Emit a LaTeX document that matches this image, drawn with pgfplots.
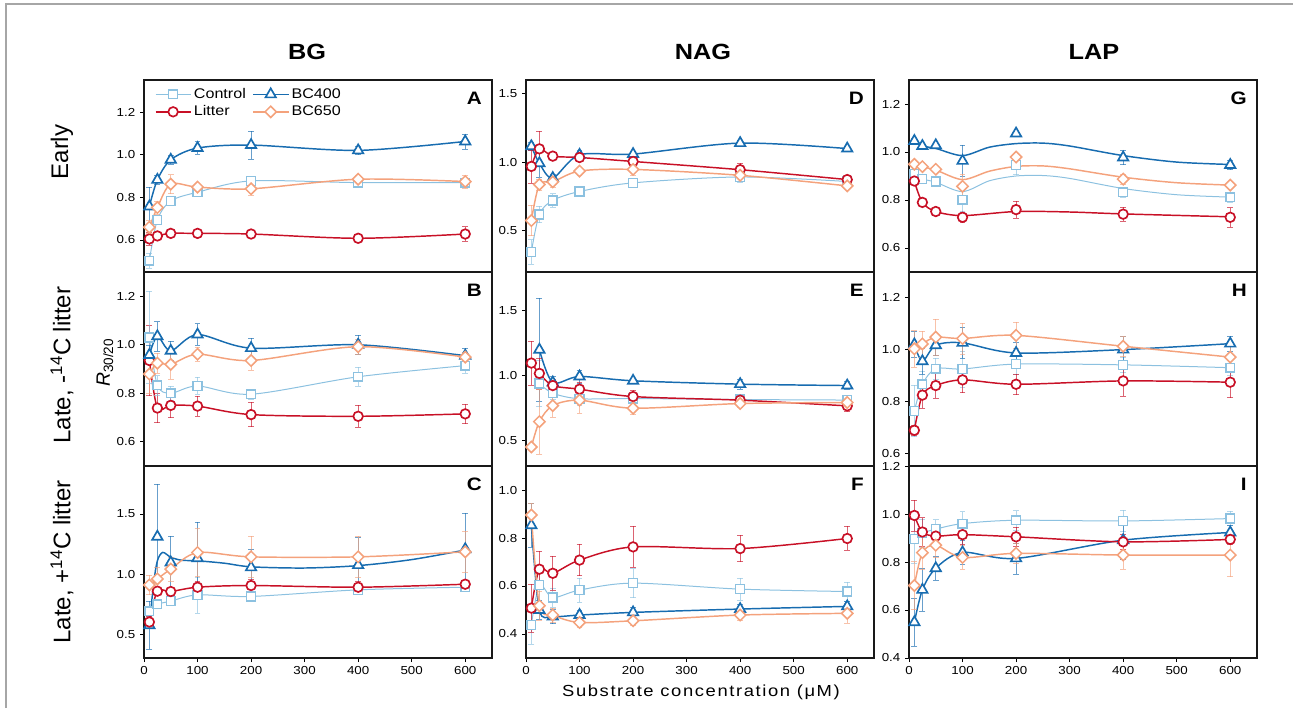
\documentclass[border=0pt]{standalone}
\usepackage{fontspec}
\setmainfont{Liberation Sans}[FakeStretch=1.15]
\newfontfamily\rotfont{Liberation Sans}
\newfontfamily\xlabfont{Liberation Sans}[FakeStretch=1.15,LetterSpace=10]
\usepackage{pgfplots}
\pgfplotsset{compat=1.18}
\definecolor{cCtrl}{RGB}{140,193,224}
\definecolor{cB4}{RGB}{23,108,176}
\definecolor{cLit}{RGB}{200,16,38}
\definecolor{cB6}{RGB}{244,162,124}
\tikzset{plabel/.style={anchor=north east, inner sep=0pt, xshift=-7.5pt, yshift=-8.8pt, font=\bfseries\fontsize{13.5}{14}\selectfont}}
\pgfplotsset{
  panel/.style={scale only axis, width=261pt, xmin=0, xmax=650,
    tick pos=left, tick align=outside, major tick length=3pt,
    axis line style={line width=1.2pt, black!90},
    every tick/.style={black, line width=0.6pt},
    ticklabel style={font=\fontsize{8.7}{10}\selectfont},
    /pgf/number format/assume math mode=true,
    yticklabel style={/pgf/number format/fixed, /pgf/number format/fixed zerofill, /pgf/number format/precision=1},
    clip=true},
  toprow/.style={xtick=\empty},
  botrow/.style={xtick={0,100,...,600}},
  sCtrl/.style={color=cCtrl, line width=0.75pt, mark=square*, mark size=3.3pt, mark options={fill=white, line width=1.05pt, solid}},
  sB4/.style={color=cB4, line width=1.1pt, mark=triangle*, mark size=4.5pt, mark options={fill=white, line width=1.25pt, solid}},
  sLit/.style={color=cLit, line width=1.1pt, mark=*, mark size=3.6pt, mark options={fill=white, line width=1.25pt, solid}},
  sB6/.style={color=cB6, line width=1.1pt, mark=square*, mark size=3pt, mark options={fill=white, line width=1.15pt, rotate=45, solid}},
  eb/.style={error bars/.cd, y dir=both, y explicit,
    error bar style={#1, line width=0.45pt, opacity=0.65},
    error mark options={rotate=90, mark size=2.2pt, #1, opacity=0.65, line width=0.45pt}},
}
\begin{document}
\begin{tikzpicture}
\useasboundingbox (0,0) rectangle (969.75pt,-531pt);
\draw[black!35, line width=0.8pt] (4.5pt,-531pt) -- (4.5pt,-3pt) -- (969.75pt,-3pt);

% ---------------- A ----------------
\begin{axis}[panel, toprow, at={(108pt,-60pt)}, anchor=north west, height=144pt,
  ymin=0.45, ymax=1.35, ytick={0.6,0.8,1.0,1.2},
  legend columns=2, legend cell align=left,
  legend style={at={(rel axis cs:0,1)}, anchor=north west, xshift=5pt, yshift=-2pt, draw=none, fill=none,
    font=\fontsize{10.5}{11}\selectfont, /tikz/every even column/.append style={column sep=3pt}, row sep=0pt},
  legend image code/.code={\draw[mark repeat=2, mark phase=2, #1] plot coordinates {(0cm,0cm)(0.46cm,0cm)(0.92cm,0cm)};}]
\addplot[sCtrl, smooth, eb=cCtrl] coordinates {(10,0.503) +- (0,0.035) (25,0.694) +- (0,0.02) (50,0.783) +- (0,0.02) (100,0.824) +- (0,0.02) (200,0.877) +- (0,0.02) (400,0.869) +- (0,0.01) (600,0.869) +- (0,0.015)};
\addlegendentry{Control}
\addplot[sB4, smooth, eb=cB4] coordinates {(10,0.757) +- (0,0.09) (25,0.882) +- (0,0.02) (50,0.976) +- (0,0.02) (100,1.031) +- (0,0.03) (200,1.045) +- (0,0.065) (400,1.02) +- (0,0.02) (600,1.062) +- (0,0.035)};
\addlegendentry{BC400}
\addplot[sLit, smooth, eb=cLit] coordinates {(10,0.605) +- (0,0.03) (25,0.619) +- (0,0.01) (50,0.631) +- (0,0.01) (100,0.631) +- (0,0.01) (200,0.628) +- (0,0.01) (400,0.608) +- (0,0.01) (600,0.628) +- (0,0.035)};
\addlegendentry{Litter}
\addplot[sB6, smooth, eb=cB6] coordinates {(10,0.66) +- (0,0.03) (25,0.752) +- (0,0.03) (50,0.862) +- (0,0.045) (100,0.848) +- (0,0.02) (200,0.84) +- (0,0.03) (400,0.885) +- (0,0.02) (600,0.874) +- (0,0.03)};
\addlegendentry{BC650}
\node[plabel] at (rel axis cs:1,1) {A};
\end{axis}

% ---------------- B ----------------
\begin{axis}[panel, toprow, at={(108pt,-204pt)}, anchor=north west, height=145.5pt,
  ymin=0.5, ymax=1.3, ytick={0.6,0.8,1.0,1.2}]
\addplot[sLit, smooth, eb=cLit] coordinates {(10,0.935) +- (0,0.145) (25,0.739) +- (0,0.06) (50,0.75) +- (0,0.05) (100,0.747) +- (0,0.04) (200,0.712) +- (0,0.05) (400,0.705) +- (0,0.045) (600,0.715) +- (0,0.04)};
\addplot[sCtrl, smooth, eb=cCtrl] coordinates {(10,1.03) +- (0,0.19) (25,0.833) +- (0,0.04) (50,0.80) +- (0,0.03) (100,0.83) +- (0,0.035) (200,0.796) +- (0,0.02) (400,0.868) +- (0,0.04) (600,0.914) +- (0,0.03)};
\addplot[sB4, smooth, eb=cB4] coordinates {(10,0.958) +- (0,0.04) (25,1.035) +- (0,0.06) (50,0.975) +- (0,0.04) (100,1.042) +- (0,0.045) (200,0.986) +- (0,0.04) (400,1.0) +- (0,0.04) (600,0.955) +- (0,0.03)};
\addplot[sB6, smooth, eb=cB6] coordinates {(10,0.879) +- (0,0.08) (25,0.924) +- (0,0.04) (50,0.919) +- (0,0.06) (100,0.961) +- (0,0.03) (200,0.935) +- (0,0.04) (400,0.992) +- (0,0.03) (600,0.949) +- (0,0.02)};
\node[plabel] at (rel axis cs:1,1) {B};
\end{axis}

% ---------------- C ----------------
\begin{axis}[panel, botrow, at={(108pt,-349.5pt)}, anchor=north west, height=144pt,
  ymin=0.3, ymax=1.9, ytick={0.5,1.0,1.5}]
\addplot[sCtrl, smooth, eb=cCtrl] coordinates {(10,0.69) +- (0,0.04) (25,0.747) +- (0,0.03) (50,0.774) +- (0,0.03) (100,0.826) +- (0,0.15) (200,0.813) +- (0,0.03) (400,0.868) +- (0,0.03) (600,0.89) +- (0,0.03)};
\addplot[sB4, smooth, no markers, forget plot] coordinates {(10,0.57) (18,0.92) (25,1.11) (35,1.18) (50,1.14) (70,1.115) (100,1.11) (150,1.09) (200,1.06) (300,1.05) (400,1.07) (500,1.12) (600,1.2)};
\addplot[sB4, only marks, eb=cB4] coordinates {(10,0.573) +- (0,0.2) (25,1.311) +- (0,0.44) (50,1.096) +- (0,0.22) (100,1.132) +- (0,0.3) (200,1.055) +- (0,0.15) (400,1.074) +- (0,0.23) (600,1.207) +- (0,0.3)};
\addplot[sLit, smooth, eb=cLit] coordinates {(10,0.60) +- (0,0.05) (25,0.857) +- (0,0.03) (50,0.854) +- (0,0.03) (100,0.89) +- (0,0.05) (200,0.904) +- (0,0.05) (400,0.89) +- (0,0.05) (600,0.915) +- (0,0.03)};
\addplot[sB6, smooth, eb=cB6] coordinates {(10,0.909) +- (0,0.08) (25,0.959) +- (0,0.1) (50,1.041) +- (0,0.1) (100,1.179) +- (0,0.2) (200,1.143) +- (0,0.17) (400,1.143) +- (0,0.17) (600,1.185) +- (0,0.17)};
\node[plabel] at (rel axis cs:1,1) {C};
\end{axis}

% ---------------- D ----------------
\begin{axis}[panel, toprow, at={(394.5pt,-60pt)}, anchor=north west, height=144pt,
  ymin=0.2, ymax=1.6, ytick={0.5,1.0,1.5}]
\addplot[sCtrl, smooth, eb=cCtrl] coordinates {(10,0.346) +- (0,0.09) (25,0.62) +- (0,0.06) (50,0.722) +- (0,0.05) (100,0.787) +- (0,0.03) (200,0.85) +- (0,0.03) (400,0.893) +- (0,0.04) (600,0.86) +- (0,0.03)};
\addplot[sB4, smooth, eb=cB4] coordinates {(10,1.117) +- (0,0.03) (25,0.993) +- (0,0.1) (50,0.885) +- (0,0.03) (100,1.054) +- (0,0.03) (200,1.06) +- (0,0.02) (400,1.14) +- (0,0.02) (600,1.10) +- (0,0.02)};
\addplot[sLit, smooth, eb=cLit] coordinates {(10,0.97) +- (0,0.12) (25,1.098) +- (0,0.13) (50,1.045) +- (0,0.02) (100,1.035) +- (0,0.02) (200,1.006) +- (0,0.03) (400,0.946) +- (0,0.05) (600,0.874) +- (0,0.03)};
\addplot[sB6, smooth, eb=cB6] coordinates {(10,0.575) +- (0,0.11) (25,0.838) +- (0,0.04) (50,0.857) +- (0,0.04) (100,0.936) +- (0,0.03) (200,0.948) +- (0,0.04) (400,0.905) +- (0,0.03) (600,0.828) +- (0,0.02)};
\node[plabel] at (rel axis cs:1,1) {D};
\end{axis}

% ---------------- E ----------------
\begin{axis}[panel, toprow, at={(394.5pt,-204pt)}, anchor=north west, height=145.5pt,
  ymin=0.3, ymax=1.8, ytick={0.5,1.0,1.5}]
\addplot[sCtrl, smooth, eb=cCtrl] coordinates {(25,0.938) +- (0,0.18) (50,0.863) +- (0,0.05) (100,0.82) +- (0,0.05) (200,0.822) +- (0,0.03) (400,0.814) +- (0,0.03) (600,0.81) +- (0,0.03)};
\addplot[sB4, smooth, eb=cB4] coordinates {(25,1.199) +- (0,0.4) (50,0.946) +- (0,0.05) (100,0.992) +- (0,0.05) (200,0.959) +- (0,0.02) (400,0.933) +- (0,0.04) (600,0.922) +- (0,0.03)};
\addplot[sLit, smooth, eb=cLit] coordinates {(10,1.096) +- (0,0.17) (25,1.016) +- (0,0.12) (50,0.922) +- (0,0.05) (100,0.894) +- (0,0.05) (200,0.837) +- (0,0.05) (400,0.809) +- (0,0.04) (600,0.765) +- (0,0.04)};
\addplot[sB6, smooth, eb=cB6] coordinates {(10,0.447) +- (0,0.02) (25,0.643) +- (0,0.25) (50,0.767) +- (0,0.09) (100,0.809) +- (0,0.1) (200,0.747) +- (0,0.05) (400,0.783) +- (0,0.03) (600,0.791) +- (0,0.03)};
\node[plabel] at (rel axis cs:1,1) {E};
\end{axis}

% ---------------- F ----------------
\begin{axis}[panel, botrow, at={(394.5pt,-349.5pt)}, anchor=north west, height=144pt,
  ymin=0.3, ymax=1.1, ytick={0.4,0.6,0.8,1.0}]
\addplot[sCtrl, smooth, eb=cCtrl] coordinates {(10,0.437) +- (0,0.08) (25,0.604) +- (0,0.07) (50,0.552) +- (0,0.04) (100,0.583) +- (0,0.05) (200,0.612) +- (0,0.06) (400,0.587) +- (0,0.045) (600,0.577) +- (0,0.04)};
\addplot[sB4, smooth, eb=cB4] coordinates {(10,0.853) +- (0,0.09) (25,0.50) +- (0,0.04) (50,0.473) +- (0,0.03) (100,0.479) +- (0,0.02) (200,0.49) +- (0,0.02) (400,0.504) +- (0,0.02) (600,0.515) +- (0,0.02)};
\addplot[sLit, smooth, eb=cLit] coordinates {(10,0.508) +- (0,0.1) (25,0.67) +- (0,0.075) (50,0.653) +- (0,0.07) (100,0.708) +- (0,0.065) (200,0.763) +- (0,0.085) (400,0.756) +- (0,0.055) (600,0.798) +- (0,0.05)};
\addplot[sB6, smooth, eb=cB6] coordinates {(10,0.896) +- (0,0.05) (25,0.518) +- (0,0.06) (50,0.479) +- (0,0.03) (100,0.448) +- (0,0.02) (200,0.455) +- (0,0.02) (400,0.479) +- (0,0.02) (600,0.486) +- (0,0.04)};
\node[plabel] at (rel axis cs:1,1) {F};
\end{axis}

% ---------------- G ----------------
\begin{axis}[panel, toprow, at={(681.75pt,-60pt)}, anchor=north west, height=144pt,
  ymin=0.5, ymax=1.3, ytick={0.6,0.8,1.0,1.2}]
\addplot[sCtrl, smooth, no markers] coordinates {(10,0.91) (25,0.888) (50,0.874) (100,0.835) (150,0.88) (200,0.90) (250,0.902) (300,0.89) (400,0.848) (500,0.822) (600,0.812)};
\addplot[sCtrl, only marks, eb=cCtrl] coordinates {(10,0.91) +- (0,0.01) (25,0.887) +- (0,0.01) (50,0.877) +- (0,0.01) (100,0.801) +- (0,0.05) (200,0.946) +- (0,0.04) (400,0.832) +- (0,0.02) (600,0.811) +- (0,0.02)};
\addplot[sB4, smooth, no markers] coordinates {(10,1.045) (25,1.025) (50,1.015) (100,0.985) (150,1.02) (200,1.035) (250,1.037) (300,1.025) (400,0.985) (500,0.958) (600,0.948)};
\addplot[sB4, only marks, eb=cB4] coordinates {(10,1.046) +- (0,0.01) (25,1.025) +- (0,0.01) (50,1.028) +- (0,0.01) (100,0.963) +- (0,0.065) (200,1.077) +- (0,0.01) (400,0.977) +- (0,0.03) (600,0.946) +- (0,0.02)};
\addplot[sLit, smooth, no markers] coordinates {(10,0.878) (25,0.79) (50,0.752) (100,0.735) (200,0.752) (300,0.75) (400,0.742) (600,0.73)};
\addplot[sLit, only marks, eb=cLit] coordinates {(10,0.879) +- (0,0.01) (25,0.79) +- (0,0.01) (50,0.752) +- (0,0.01) (100,0.728) +- (0,0.02) (200,0.76) +- (0,0.035) (400,0.741) +- (0,0.03) (600,0.728) +- (0,0.04)};
\addplot[sB6, smooth, no markers] coordinates {(10,0.948) (25,0.938) (50,0.925) (100,0.885) (150,0.92) (200,0.94) (250,0.942) (300,0.93) (400,0.895) (500,0.872) (600,0.862)};
\addplot[sB6, only marks, eb=cB6] coordinates {(10,0.949) +- (0,0.01) (25,0.939) +- (0,0.01) (50,0.928) +- (0,0.01) (100,0.857) +- (0,0.05) (200,0.979) +- (0,0.01) (400,0.887) +- (0,0.02) (600,0.862) +- (0,0.01)};
\node[plabel] at (rel axis cs:1,1) {G};
\end{axis}

% ---------------- H ----------------
\begin{axis}[panel, toprow, at={(681.75pt,-204pt)}, anchor=north west, height=145.5pt,
  ymin=0.55, ymax=1.3, ytick={0.6,0.8,1.0,1.2}]
\addplot[sCtrl, smooth, eb=cCtrl] coordinates {(10,0.763) +- (0,0.1) (25,0.866) +- (0,0.05) (50,0.926) +- (0,0.04) (100,0.925) +- (0,0.07) (200,0.944) +- (0,0.04) (400,0.941) +- (0,0.03) (600,0.93) +- (0,0.03)};
\addplot[sB4, smooth, eb=cB4] coordinates {(10,1.02) +- (0,0.05) (25,0.955) +- (0,0.05) (50,1.017) +- (0,0.04) (100,1.026) +- (0,0.06) (200,0.987) +- (0,0.04) (400,1.0) +- (0,0.05) (600,1.023) +- (0,0.03)};
\addplot[sLit, smooth, eb=cLit] coordinates {(10,0.688) +- (0,0.02) (25,0.824) +- (0,0.05) (50,0.861) +- (0,0.05) (100,0.883) +- (0,0.05) (200,0.866) +- (0,0.04) (400,0.879) +- (0,0.06) (600,0.874) +- (0,0.06)};
\addplot[sB6, smooth, eb=cB6] coordinates {(10,1.003) +- (0,0.07) (25,1.022) +- (0,0.05) (50,1.048) +- (0,0.07) (100,1.043) +- (0,0.06) (200,1.055) +- (0,0.05) (400,1.013) +- (0,0.04) (600,0.971) +- (0,0.04)};
\node[plabel] at (rel axis cs:1,1) {H};
\end{axis}

% ---------------- I ----------------
\begin{axis}[panel, botrow, at={(681.75pt,-349.5pt)}, anchor=north west, height=144pt,
  ymin=0.4, ymax=1.2, ytick={0.4,0.6,0.8,1.0,1.2}]
\addplot[sCtrl, smooth, eb=cCtrl] coordinates {(10,0.896) +- (0,0.1) (25,0.92) +- (0,0.06) (50,0.937) +- (0,0.04) (100,0.96) +- (0,0.05) (200,0.974) +- (0,0.04) (400,0.971) +- (0,0.045) (600,0.981) +- (0,0.03)};
\addplot[sB4, smooth, eb=cB4] coordinates {(10,0.549) +- (0,0.1) (25,0.684) +- (0,0.09) (50,0.774) +- (0,0.05) (100,0.84) +- (0,0.05) (200,0.815) +- (0,0.065) (400,0.891) +- (0,0.08) (600,0.923) +- (0,0.03)};
\addplot[sLit, smooth, eb=cLit] coordinates {(10,0.994) +- (0,0.065) (25,0.925) +- (0,0.06) (50,0.908) +- (0,0.05) (100,0.914) +- (0,0.04) (200,0.905) +- (0,0.04) (400,0.884) +- (0,0.03) (600,0.894) +- (0,0.02)};
\addplot[sB6, smooth, eb=cB6] coordinates {(10,0.702) +- (0,0.1) (25,0.839) +- (0,0.07) (50,0.87) +- (0,0.05) (100,0.819) +- (0,0.05) (200,0.836) +- (0,0.04) (400,0.829) +- (0,0.06) (600,0.829) +- (0,0.09)};
\node[plabel] at (rel axis cs:1,1) {I};
\end{axis}

% ---------------- text ----------------
\node[font=\bfseries\fontsize{16.5}{18}\selectfont] at (230.25pt,-39pt) {BG};
\node[font=\bfseries\fontsize{16.5}{18}\selectfont] at (527.25pt,-39pt) {NAG};
\node[font=\bfseries\fontsize{16.5}{18}\selectfont] at (820.5pt,-39pt) {LAP};
\node[rotate=90, font=\rotfont\fontsize{18}{20}\selectfont] at (46.5pt,-114pt) {Early};
\node[rotate=90, font=\rotfont\fontsize{18}{20}\selectfont] at (46.5pt,-273.75pt) {Late, -\textsuperscript{14}C litter};
\node[rotate=90, font=\rotfont\fontsize{18}{20}\selectfont] at (46.5pt,-421.5pt) {Late, +\textsuperscript{14}C litter};
\node[rotate=90, font=\rotfont\fontsize{14.5}{16}\selectfont] at (78.75pt,-272pt) {\textit{R}\textsubscript{30/20}};
\node[font=\xlabfont\fontsize{12}{14}\selectfont] at (525.75pt,-519pt) {Substrate concentration (μM)};
\end{tikzpicture}
\end{document}
